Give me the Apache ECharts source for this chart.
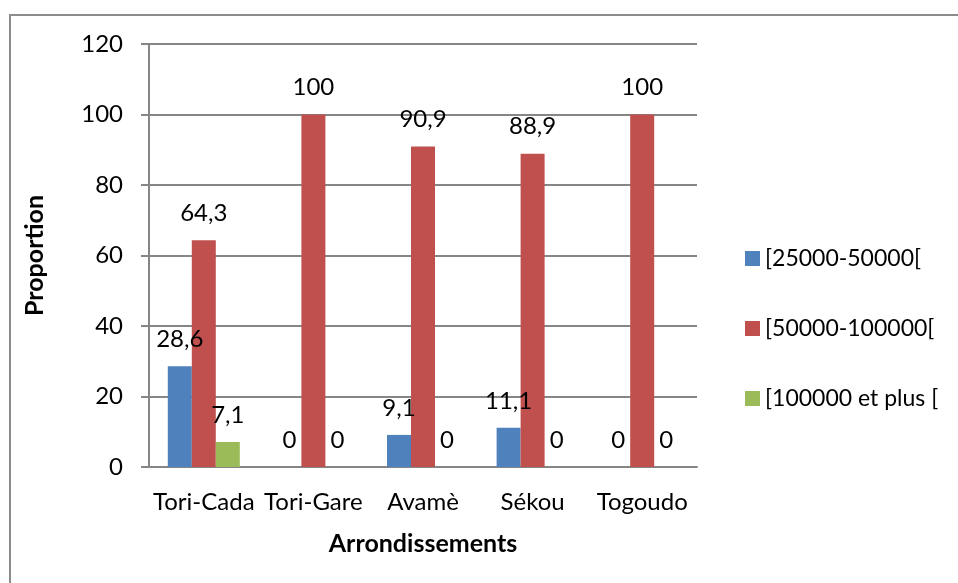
<!DOCTYPE html>
<html>
<head>
<meta charset="utf-8">
<script src="https://cdn.jsdelivr.net/npm/echarts@6/dist/echarts.min.js"></script>
<style>
  html, body { margin: 0; padding: 0; background: #fff; }
  #chart { width: 958px; height: 583px; }
</style>
</head>
<body>
<div id="chart"></div>
<script>
// Arrondissements and the share of each income band (in %)
const categories = ['Tori-Cada', 'Tori-Gare', 'Avamè', 'Sékou', 'Togoudo'];
const seriesNames = ['[25000-50000[', '[50000-100000[', '[100000 et plus ['];
const band1 = [28.6, 0, 9.1, 11.1, 0];
const band2 = [64.3, 100, 90.9, 88.9, 100];
const band3 = [7.1, 0, 0, 0, 0];
const yTicks = [0, 20, 40, 60, 80, 100, 120];

const colors = ['#4F81BD', '#C0504D', '#9BBB59'];
const FONT = 'Lato';

function fmt(v) {
  return String(v).replace('.', ',');
}

function barSeries(name, data, color) {
  return {
    name: name,
    type: 'bar',
    data: data,
    barWidth: 24,
    barGap: '0%',
    itemStyle: { color: color },
    label: {
      show: true,
      position: 'top',
      distance: 15,
      fontFamily: FONT,
      fontSize: 24,
      color: '#000',
      formatter: p => fmt(p.value)
    }
  };
}

const chart = echarts.init(document.getElementById('chart'), null, { renderer: 'canvas' });

chart.setOption({
  backgroundColor: '#fff',
  animation: false,
  textStyle: { fontFamily: FONT },
  graphic: [{
    type: 'rect',
    shape: { x: 10, y: 15, width: 1000, height: 1000 },
    style: { fill: 'none', stroke: '#8c8c8c', lineWidth: 2 },
    silent: true
  }],
  grid: { left: 149, right: 261, top: 44, bottom: 116 },
  legend: {
    orient: 'vertical',
    left: 740,
    top: 242,
    itemGap: 47,
    itemWidth: 15,
    itemHeight: 15,
    icon: 'rect',
    textStyle: { fontFamily: FONT, fontSize: 23, color: '#000' },
    data: seriesNames
  },
  xAxis: {
    type: 'category',
    data: categories,
    name: 'Arrondissements',
    nameLocation: 'middle',
    nameGap: 64,
    nameTextStyle: { fontFamily: FONT, fontSize: 25, fontWeight: 'bold', color: '#000' },
    axisLine: { lineStyle: { color: '#868686', width: 2 } },
    axisTick: { show: false },
    axisLabel: { fontFamily: FONT, fontSize: 24, color: '#000', margin: 23, interval: 0 }
  },
  yAxis: {
    type: 'value',
    min: yTicks[0],
    max: yTicks[yTicks.length - 1],
    interval: yTicks[1] - yTicks[0],
    name: 'Proportion',
    nameLocation: 'middle',
    nameGap: 102,
    nameTextStyle: { fontFamily: FONT, fontSize: 25, fontWeight: 'bold', color: '#000' },
    axisLine: { show: true, lineStyle: { color: '#868686', width: 2 } },
    axisTick: { show: true, length: 8, lineStyle: { color: '#868686', width: 2 } },
    axisLabel: { fontFamily: FONT, fontSize: 24, color: '#000', margin: 26 },
    splitLine: { lineStyle: { color: '#868686', width: 2 } }
  },
  series: [
    barSeries(seriesNames[0], band1, colors[0]),
    barSeries(seriesNames[1], band2, colors[1]),
    barSeries(seriesNames[2], band3, colors[2])
  ]
});
</script>
</body>
</html>
